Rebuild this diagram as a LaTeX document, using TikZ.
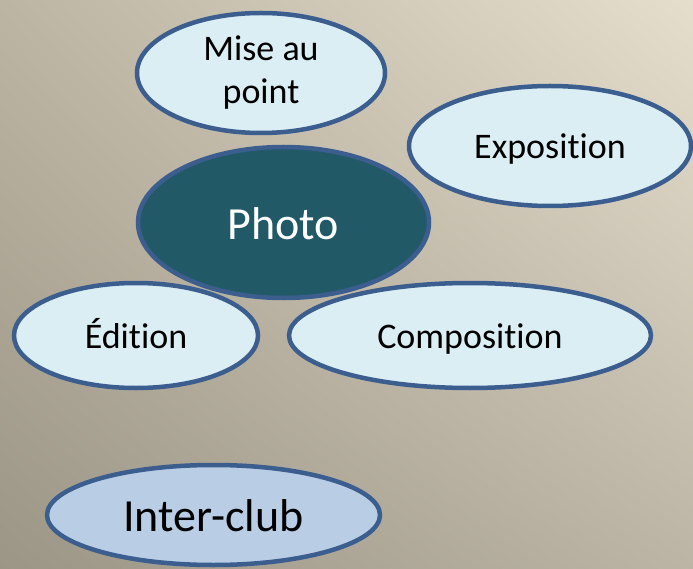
\documentclass[tikz,border=0pt]{standalone}
\usepackage{fontspec}
\setmainfont{Carlito}[Ligatures=NoCommon]
\usepackage{xcolor}
\usetikzlibrary{shapes.geometric,shadings}
\definecolor{bgtopright}{HTML}{E5DECD}
\definecolor{bgtopleft}{HTML}{BDB5A3}
\definecolor{bgbotleft}{HTML}{9C9687}
\definecolor{bgbotright}{HTML}{BCB5A5}
\definecolor{rimblue}{HTML}{3B5E8F}
\definecolor{paleblue}{HTML}{DBEEF4}
\definecolor{phototeal}{HTML}{215967}
\definecolor{clubblue}{HTML}{B9CDE5}

\begin{document}
\begin{tikzpicture}[x=1pt,y=-1pt,
  bubble/.style={draw=rimblue,line width=4.5pt,ellipse,inner sep=0pt,align=center,
    fill=paleblue,text=black,font=\fontsize{36}{43}\selectfont},
  smalltext/.style={text height=29.5pt,text depth=3.6pt},
  bigtext/.style={font=\fontsize{46}{54}\selectfont,text height=37.7pt,text depth=4.6pt}]
% Background
\shade[upper left=bgtopleft,upper right=bgtopright,lower left=bgbotleft,lower right=bgbotright]
  (0,0) rectangle (693,569);
\useasboundingbox (0,0) rectangle (693,569);

% Centre bubble
\node[bubble,bigtext,fill=phototeal,text=white,minimum width=291pt,minimum height=151pt] (photo) at (283.5,222.5) {Photo};

% Surrounding bubbles
\node[bubble,minimum width=248pt,minimum height=120pt] (mise) at (261,73) {Mise au\\point};
\node[bubble,smalltext,minimum width=282pt,minimum height=120pt] (expo) at (550,146) {Exposition};
\node[bubble,smalltext,minimum width=244pt,minimum height=105pt] (edition) at (136,335.5) {Édition};
\node[bubble,smalltext,minimum width=362pt,minimum height=105pt] (compo) at (470,335.5) {Composition};

% Inter-club
\node[bubble,bigtext,fill=clubblue,minimum width=333pt,minimum height=100pt] (club) at (213.5,515) {Inter-club};
\end{tikzpicture}
\end{document}
